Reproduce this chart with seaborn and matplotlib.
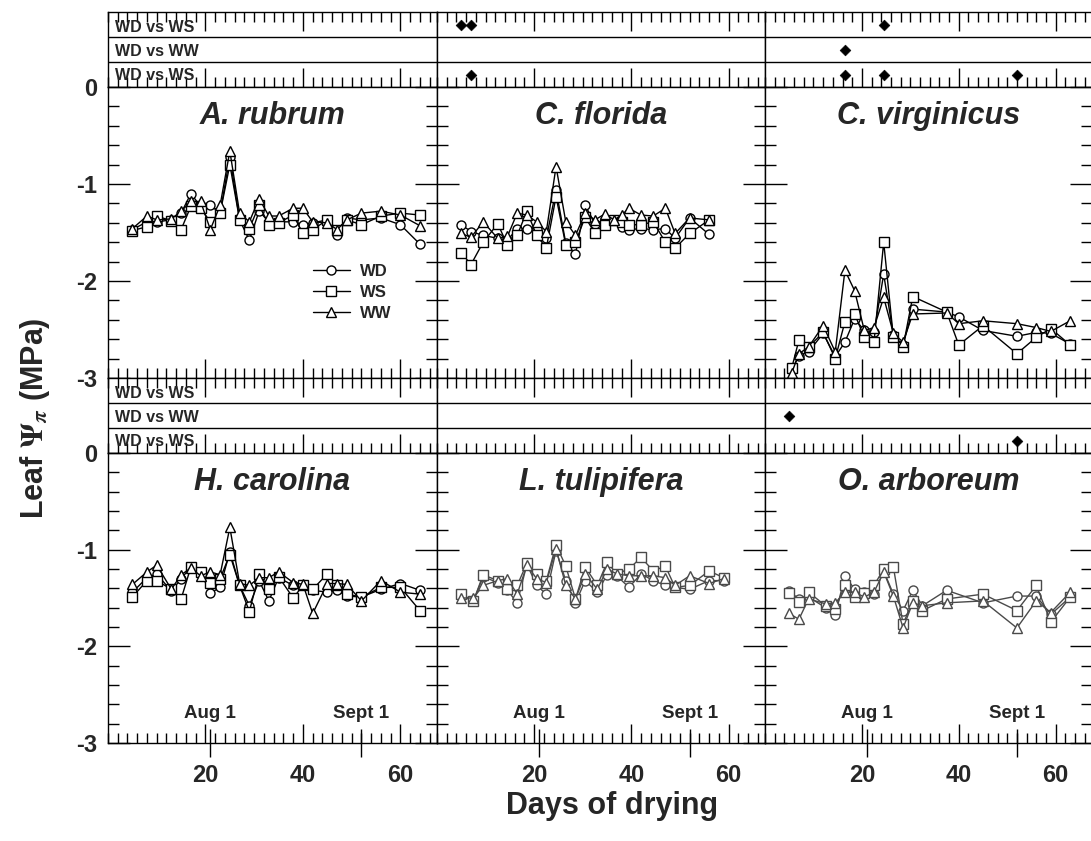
import numpy as np
import pandas as pd
import matplotlib
matplotlib.use('Agg')
import matplotlib.pyplot as plt
import seaborn as sns
from matplotlib.ticker import MultipleLocator, FixedLocator

sns.set_theme(style='white')
plt.rcParams['font.family'] = ['Liberation Sans', 'DejaVu Sans']
plt.rcParams['font.weight'] = 'bold'
plt.rcParams['axes.unicode_minus'] = False
plt.rcParams['mathtext.fontset'] = 'stix'

# ---- data (leaf osmotic potential, MPa) ----
treatments = ['WD', 'WS', 'WW']
markers = ['o', 's', '^']

days_ar = [5, 8, 10, 13, 15, 17, 19, 21, 23, 25, 27, 29, 31, 33, 35, 38, 40, 42, 45, 47, 49, 52, 56, 60, 64]
ar_wd = [-1.47, -1.39, -1.39, -1.37, -1.30, -1.10, -1.23, -1.22, -1.30, -0.72, -1.37, -1.58, -1.28,
         -1.39, -1.39, -1.39, -1.42, -1.40, -1.37, -1.53, -1.35, -1.37, -1.35, -1.42, -1.62]
ar_ws = [-1.48, -1.44, -1.33, -1.38, -1.47, -1.23, -1.25, -1.39, -1.30, -0.80, -1.37, -1.46, -1.22,
         -1.42, -1.40, -1.32, -1.51, -1.47, -1.37, -1.47, -1.37, -1.42, -1.33, -1.30, -1.32]
ar_ww = [-1.46, -1.33, -1.37, -1.36, -1.28, -1.18, -1.18, -1.47, -1.22, -0.66, -1.30, -1.39, -1.15,
         -1.33, -1.33, -1.25, -1.25, -1.39, -1.40, -1.47, -1.37, -1.30, -1.28, -1.32, -1.43]

days_cf = [5, 7, 9.5, 12.5, 14.5, 16.5, 18.5, 20.5, 22.5, 24.5, 26.5, 28.5, 30.5, 32.5, 34.5, 36.5,
           38, 39.5, 42, 44.5, 47, 49, 52, 56]
cf_wd = [-1.42, -1.49, -1.53, -1.56, -1.58, -1.46, -1.46, -1.46, -1.56, -1.06, -1.61, -1.72, -1.22,
         -1.41, -1.37, -1.37, -1.44, -1.47, -1.46, -1.47, -1.46, -1.56, -1.35, -1.52]
cf_ws = [-1.71, -1.83, -1.60, -1.41, -1.63, -1.53, -1.28, -1.53, -1.66, -1.13, -1.63, -1.60, -1.34,
         -1.51, -1.42, -1.37, -1.39, -1.42, -1.42, -1.39, -1.60, -1.66, -1.51, -1.37]
cf_ww = [-1.51, -1.55, -1.39, -1.56, -1.54, -1.30, -1.32, -1.39, -1.49, -0.82, -1.39, -1.53, -1.30,
         -1.37, -1.31, -1.37, -1.32, -1.25, -1.32, -1.33, -1.25, -1.51, -1.35, -1.37]

days_cv = [5.5, 7, 9, 12, 14.5, 16.5, 18.5, 20.5, 22.5, 24.5, 26.5, 28.5, 30.5, 37.5, 40, 45, 52, 56, 59, 63]
cv_wd = [-2.92, -2.77, -2.73, -2.54, -2.78, -2.63, -2.39, -2.51, -2.53, -1.93, -2.56, -2.66, -2.29,
         -2.32, -2.37, -2.51, -2.57, -2.53, -2.54, -2.65]
cv_ws = [-2.90, -2.61, -2.68, -2.53, -2.80, -2.42, -2.34, -2.58, -2.63, -1.60, -2.58, -2.68, -2.16,
         -2.32, -2.66, -2.46, -2.75, -2.58, -2.49, -2.66]
cv_ww = [-2.95, -2.75, -2.68, -2.46, -2.73, -1.89, -2.10, -2.51, -2.48, -2.17, -2.54, -2.63, -2.34,
         -2.33, -2.44, -2.41, -2.44, -2.48, -2.52, -2.41]

days_hc = days_ar
hc_wd = [-1.44, -1.29, -1.25, -1.43, -1.30, -1.18, -1.23, -1.45, -1.39, -1.02, -1.37, -1.58, -1.32,
         -1.53, -1.29, -1.37, -1.37, -1.42, -1.44, -1.42, -1.48, -1.49, -1.41, -1.35, -1.42]
hc_ws = [-1.49, -1.32, -1.32, -1.41, -1.51, -1.18, -1.23, -1.34, -1.30, -1.05, -1.37, -1.64, -1.25,
         -1.41, -1.28, -1.50, -1.37, -1.41, -1.25, -1.37, -1.46, -1.49, -1.39, -1.39, -1.63]
hc_ww = [-1.36, -1.23, -1.16, -1.41, -1.26, -1.19, -1.27, -1.23, -1.26, -0.77, -1.35, -1.37, -1.29,
         -1.29, -1.23, -1.34, -1.36, -1.66, -1.35, -1.35, -1.36, -1.53, -1.32, -1.44, -1.46]

days_lt = [5, 7.5, 9.5, 12.5, 14.5, 16.5, 18.5, 20.5, 22.5, 24.5, 26.5, 28.5, 30.5, 33, 35, 37,
           39.5, 42, 44.5, 47, 49, 52, 56, 59]
lt_wd = [-1.48, -1.53, -1.28, -1.34, -1.42, -1.55, -1.15, -1.37, -1.46, -1.01, -1.32, -1.55, -1.32,
         -1.44, -1.26, -1.27, -1.39, -1.25, -1.32, -1.37, -1.39, -1.41, -1.32, -1.32]
lt_ws = [-1.46, -1.53, -1.26, -1.32, -1.41, -1.37, -1.14, -1.25, -1.32, -0.95, -1.17, -1.51, -1.18,
         -1.37, -1.13, -1.25, -1.20, -1.08, -1.22, -1.17, -1.39, -1.37, -1.22, -1.29]
lt_ww = [-1.50, -1.50, -1.37, -1.32, -1.30, -1.46, -1.16, -1.30, -1.34, -0.99, -1.37, -1.51, -1.25,
         -1.41, -1.20, -1.25, -1.27, -1.27, -1.27, -1.29, -1.37, -1.27, -1.35, -1.30]

days_oa = [5, 7, 9, 12.5, 14.5, 16.5, 18.5, 20.5, 22.5, 24.5, 26.5, 28.5, 30.5, 32.5, 37.5, 45, 52, 56, 59, 63]
oa_wd = [-1.43, -1.51, -1.49, -1.60, -1.68, -1.27, -1.41, -1.44, -1.46, -1.22, -1.46, -1.63, -1.42,
         -1.58, -1.42, -1.55, -1.48, -1.48, -1.67, -1.49]
oa_ws = [-1.45, -1.54, -1.44, -1.58, -1.61, -1.37, -1.49, -1.45, -1.37, -1.20, -1.18, -1.77, -1.53,
         -1.63, -1.51, -1.46, -1.63, -1.37, -1.75, -1.49]
oa_ww = [-1.66, -1.72, -1.51, -1.56, -1.55, -1.44, -1.44, -1.49, -1.44, -1.23, -1.48, -1.81, -1.55,
         -1.58, -1.55, -1.53, -1.81, -1.53, -1.65, -1.44]

# significant differences (days), rows: WD vs WS / WD vs WW / WD vs WS
strip_labels = ['WD vs WS', 'WD vs WW', 'WD vs WS']
cf_sig = [[5, 7], [], [7]]
cv_sig = [[24.5], [16.5], [16.5, 24.5, 52]]
oa_sig = [[], [5], [52]]
no_sig = [[], [], []]

aug1_day, sept1_day = 21, 52

panels = [
    ('A. rubrum', days_ar, [ar_wd, ar_ws, ar_ww], no_sig, 'black'),
    ('C. florida', days_cf, [cf_wd, cf_ws, cf_ww], cf_sig, 'black'),
    ('C. virginicus', days_cv, [cv_wd, cv_ws, cv_ww], cv_sig, 'black'),
    ('H. carolina', days_hc, [hc_wd, hc_ws, hc_ww], no_sig, 'black'),
    ('L. tulipifera', days_lt, [lt_wd, lt_ws, lt_ww], no_sig, '#4a4a4a'),
    ('O. arboreum', days_oa, [oa_wd, oa_ws, oa_ww], oa_sig, '#4a4a4a'),
]

# ---- layout (pixels) ----
W, H = 1091, 841
col_x = [108, 437, 765]
col_w = [329, 328, 327]
row_y = [(12, 87, 378), (378, 453, 743)]


def frac(x0, y0, x1, y1):
    return [x0 / W, 1 - y1 / H, (x1 - x0) / W, (y1 - y0) / H]


def clean_spines(ax):
    for s in ax.spines.values():
        s.set_color('black')
        s.set_linewidth(1.0)
        s.set_visible(True)


fig = plt.figure(figsize=(W / 100, H / 100), dpi=100)
fig.patch.set_facecolor('white')

for i, (name, days, series, sig, col) in enumerate(panels):
    r, c = divmod(i, 3)
    x0 = col_x[c]
    x1 = x0 + col_w[c]
    ys, ym, yb = row_y[r]

    # significance strip
    sx = fig.add_axes(frac(x0, ys, x1, ym))
    sx.set_xlim(0, 67.5)
    sx.set_ylim(0, 3)
    sx.set_yticks([])
    for yy in (1, 2):
        sx.axhline(yy, color='black', lw=1.0)
    sx.xaxis.set_major_locator(FixedLocator([20, 40, 60]))
    sx.xaxis.set_minor_locator(MultipleLocator(2))
    sx.tick_params(axis='x', which='both', direction='in', top=True, bottom=True,
                   labelbottom=False, width=1, color='black')
    sx.tick_params(axis='x', which='major', length=14)
    sx.tick_params(axis='x', which='minor', length=7)
    clean_spines(sx)
    for k, d in enumerate(sig):
        if d:
            sns.scatterplot(x=d, y=[2.5 - k] * len(d), marker='D', color='black', s=30,
                            edgecolor='black', ax=sx, legend=False)
    sx.set_xlabel('')
    sx.set_ylabel('')
    if c == 0:
        for k, lab in enumerate(strip_labels):
            sx.text(0.02, [2.4, 1.44, 0.45][k], lab, transform=sx.get_yaxis_transform(),
                    ha='left', va='center', fontsize=11.5, fontweight='bold')

    # main panel
    ax = fig.add_axes(frac(x0, ym, x1, yb))
    for lab, vals, mk in zip(treatments, series, markers):
        sns.lineplot(x=days, y=vals, marker=mk, color=col, markerfacecolor='white',
                     markeredgecolor=col, markersize=6.5, markeredgewidth=1.0, linewidth=1.0,
                     errorbar=None, sort=False, ax=ax,
                     label=lab if i == 0 else None)
    ax.set_xlim(0, 67.5)
    ax.set_ylim(-3, 0)
    ax.set_xlabel('')
    ax.set_ylabel('')
    ax.xaxis.set_major_locator(FixedLocator([20, 40, 60]))
    ax.xaxis.set_minor_locator(MultipleLocator(2))
    ax.yaxis.set_major_locator(MultipleLocator(1))
    ax.yaxis.set_minor_locator(MultipleLocator(0.2))
    ax.tick_params(axis='y', which='both', direction='in', left=True, right=True,
                   labelleft=(c == 0), width=1, color='black')
    ax.tick_params(axis='y', which='major', length=16, labelsize=17, pad=8)
    ax.tick_params(axis='y', which='minor', length=8)
    ax.tick_params(axis='x', which='both', direction='in', bottom=True, top=False,
                   labelbottom=(r == 1), width=1, color='black')
    ax.tick_params(axis='x', which='major', length=14, labelsize=17, pad=15)
    ax.tick_params(axis='x', which='minor', length=7)
    clean_spines(ax)
    ax.text(0.5, 0.9, name, transform=ax.transAxes, ha='center', va='center',
            fontsize=22, fontweight='bold', fontstyle='italic')

    if r == 1:
        sec = ax.secondary_xaxis('bottom')
        sec.set_xticks([aug1_day, sept1_day])
        sec.tick_params(direction='inout', length=20, width=1, labelbottom=False, color='black')
        sec.spines['bottom'].set_visible(False)
        ax.text(aug1_day, -2.69, 'Aug 1', ha='center', va='center', fontsize=13.5, fontweight='bold')
        ax.text(sept1_day, -2.69, 'Sept 1', ha='center', va='center', fontsize=13.5, fontweight='bold')

    if i == 0:
        ax.legend(loc='upper left', bbox_to_anchor=(0.578, 0.443), frameon=False,
                  prop={'weight': 'bold', 'size': 12}, handlelength=2.2,
                  labelspacing=0.35, handletextpad=0.6)
    else:
        leg = ax.get_legend()
        if leg is not None:
            leg.remove()

fig.text(35 / W, 1 - 418 / H, r'Leaf $\Psi_{\pi}$ (MPa)', rotation=90, ha='center', va='center',
         fontsize=22, fontweight='bold')
fig.text(612 / W, 1 - 806 / H, 'Days of drying', ha='center', va='center',
         fontsize=22, fontweight='bold')

fig.savefig('out.png', dpi=100, facecolor='white')
